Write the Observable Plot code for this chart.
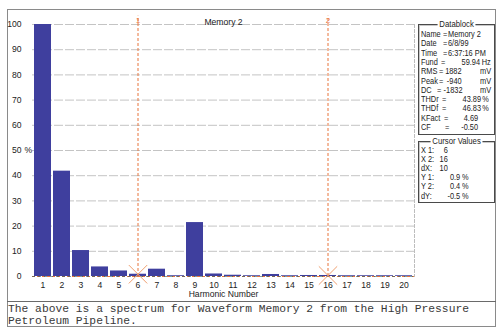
<!DOCTYPE html>
<html>
<head>
<meta charset="utf-8">
<script src="https://cdn.jsdelivr.net/npm/d3@7"></script>
<script src="https://cdn.jsdelivr.net/npm/@observablehq/plot@0.6"></script>
<style>
  html, body { margin: 0; padding: 0; background: #fff; }
  #wrap { position: relative; width: 503px; height: 336px; overflow: hidden; background: #fff; font-family: "Liberation Sans", Arial, sans-serif; }
  #frame { position: absolute; left: 7px; top: 9px; width: 487px; height: 316px; border: 1px solid #8a8a8a; }
  #sep { position: absolute; left: 7px; top: 301px; width: 489px; height: 0; border-top: 1px solid #6a6a6a; }
  #chart { position: absolute; left: 0; top: 0; }
  .caption { position: absolute; left: 8px; font-family: "Liberation Mono", "Courier New", monospace; font-size: 11.3px; color: #3a3a3a; white-space: pre; line-height: 12px; }
  .box { position: absolute; left: 418px; width: 75px; border: 1px solid #4a4a4a; box-shadow: inset 1px 1px 0 #c8c8c8; }
  .boxtitle { position: absolute; top: -6px; left: 0; right: 0; text-align: center; font-size: 8.8px; line-height: 10px; color: #222; }
  .boxtitle span { background: #fff; padding: 0 2px; display: inline-block; transform: scaleX(0.88); }
  .t { position: absolute; font-size: 8.8px; line-height: 10px; color: #222; white-space: nowrap; transform: scaleX(0.84); transform-origin: left center; }
  .t.end { transform-origin: right center; }
</style>
</head>
<body>
<div id="wrap">
  <div id="frame"></div>
  <div id="sep"></div>
  <div id="chart"></div>
  <div class="caption" id="cap1" style="top:303px"></div>
  <div class="caption" id="cap2" style="top:315px"></div>
  <div class="box" id="dblock" style="top:24px;height:109px"><div class="boxtitle"><span>Datablock</span></div></div>
  <div class="box" id="cblock" style="top:141px;height:60px"><div class="boxtitle"><span>Cursor Values</span></div></div>
</div>
<script>
// ---- data ----
const harmonics = [1, 2, 3, 4, 5, 6, 7, 8, 9, 10, 11, 12, 13, 14, 15, 16, 17, 18, 19, 20];
const percent = [100, 41.8, 10.3, 3.8, 2.2, 0.9, 2.9, 0.3, 21.4, 1.0, 0.5, 0.3, 0.8, 0.3, 0.4, 0.4, 0.3, 0.3, 0.3, 0.3];
const yTicks = [0, 10, 20, 30, 40, 50, 60, 70, 80, 90, 100];
const cursorX = [6, 16];
const cursorY = [0.9, 0.4];
const cursorLabels = ["1", "2"];
const chartTitle = "Memory 2";
const xLabel = "Harmonic Number";
const captionLines = [
  "The above is a spectrum for Waveform Memory 2 from the High Pressure",
  "Petroleum Pipeline."
];
const dataLabels = ["Name", "Date", "Time", "Fund", "RMS", "Peak", "DC", "THDr", "THDf", "KFact", "CF"];
const dataValues = ["Memory 2", "6/8/99", "6:37:16 PM", "59.94", "1882", "-940", "-1832", "43.89", "46.83", "4.69", "-0.50"];
const dataUnits = ["", "", "", "Hz", "mV", "mV", "mV", "%", "%", "", ""];
const cursorNames = ["X 1:", "X 2:", "dX:", "Y 1:", "Y 2:", "dY:"];
const cursorValues = ["6", "16", "10", "0.9", "0.4", "-0.5"];
const cursorUnits = ["", "", "", "%", "%", "%"];

// ---- chart ----
const bars = harmonics.map((h, i) => ({h, v: percent[i]}));
const cursors = cursorX.map((x, i) => ({x, y: cursorY[i], label: cursorLabels[i]}));
const orange = "#e8743c";

const chart = Plot.plot({
  width: 503,
  height: 336,
  marginTop: 24,
  marginBottom: 60,
  marginLeft: 32,
  marginRight: 89,
  style: {fontFamily: "'Liberation Sans', Arial, sans-serif", fontSize: "8.6px", color: "#222", background: "transparent", overflow: "visible"},
  x: {type: "band", domain: harmonics, padding: 0.1, label: null},
  y: {domain: [0, 100], label: null},
  marks: [
    Plot.gridY(yTicks.slice(1), {stroke: "#c4c4c4", strokeOpacity: 1, strokeDasharray: "9,2"}),
    Plot.frame({anchor: "right", stroke: "#bdbdbd", strokeDasharray: "3,2"}),
    Plot.ruleY([0], {stroke: orange, strokeDasharray: "3,2", strokeWidth: 1.2}),
    Plot.barY(bars, {x: "h", y: "v", fill: "#3f3f9e"}),
    Plot.ruleY([0], {stroke: "#2e5f5a", strokeDasharray: "3,3", strokeOpacity: 0.6}),
    Plot.ruleX(cursors, {x: "x", y1: 0, y2: 103.3, stroke: orange, strokeDasharray: "3,2"}),
    Plot.text(cursors, {x: "x", y: 101.7, text: "label", fill: orange, fontSize: 8}),
    Plot.dot(cursors, {x: "x", y: "y", symbol: "times", r: 8.4, stroke: "#f0a070", strokeWidth: 1}),
    Plot.axisX({tickSize: 0, tickPadding: 5, label: null}),
    Plot.axisY({ticks: yTicks, tickSize: 0, tickPadding: 11, label: null}),
    Plot.text(["%"], {y: [50], frameAnchor: "left", dx: -8, textAnchor: "start"}),
    Plot.text([chartTitle], {frameAnchor: "top", dy: -6}),
    Plot.text([xLabel], {frameAnchor: "bottom", dy: 20})
  ]
});
document.getElementById("chart").appendChild(chart);

// ---- caption ----
document.getElementById("cap1").textContent = captionLines[0];
document.getElementById("cap2").textContent = captionLines[1];

// ---- datablock ----
const BOXW = 75;
function addText(parent, text, x, top, anchor) {
  const s = document.createElement("div");
  s.className = anchor === "end" ? "t end" : "t";
  s.textContent = text;
  s.style.top = top + "px";
  if (anchor === "end") s.style.right = (BOXW - x) + "px"; else s.style.left = x + "px";
  parent.appendChild(s);
}
// layout: [equals-sign x, value x, value anchor, unit end x]
const dbLayout = {
  Name:  [24, 29, "start"],
  Date:  [24, 29, "start"],
  Time:  [24, 29, "start"],
  Fund:  [22, 61, "end", 72],
  RMS:   [20, 43, "end", 72],
  Peak:  [20, 43, "end", 72],
  DC:    [18, 43, "end", 72],
  THDr:  [23, 62, "end", 70],
  THDf:  [23, 62, "end", 70],
  KFact: [25, 59, "end"],
  CF:    [26, 59, "end"]
};
const db = document.getElementById("dblock");
dataLabels.forEach((lab, i) => {
  const top = 4 + i * 9.3;
  const [eq, vx, va, ux] = dbLayout[lab];
  addText(db, lab, 2, top);
  addText(db, "=", eq, top);
  addText(db, dataValues[i], vx, top, va);
  if (dataUnits[i]) addText(db, dataUnits[i], ux, top, "end");
});
const cb = document.getElementById("cblock");
cursorNames.forEach((lab, i) => {
  const top = 3 + i * 9.1;
  addText(cb, lab, 2, top);
  if (cursorUnits[i] === "%") {
    addText(cb, cursorValues[i], 41, top, "end");
    addText(cb, cursorUnits[i], 43, top);
  } else {
    addText(cb, cursorValues[i], 29, top, "end");
  }
});
</script>
</body>
</html>
